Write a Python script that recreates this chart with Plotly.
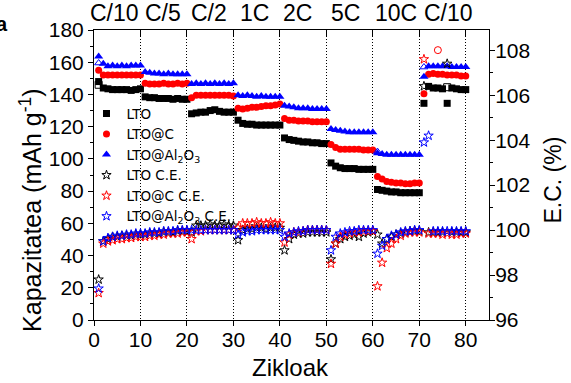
import plotly.graph_objects as go

cycles = list(range(1, 81))

# Capacity (mAh g-1), left axis
lto_cap = [148, 144, 143.5, 143, 143, 143, 143, 142.5, 143, 143.5,
           138.5, 138, 138, 137.5, 137.5, 137.5, 137, 137.5, 137, 137,
           128, 128.5, 129, 129, 130, 130.5, 129.5, 129, 129, 129,
           124, 122, 121.5, 121.5, 121, 121, 121, 121, 121, 121,
           113, 112, 111.5, 111, 110.5, 110.5, 110, 110, 109.5, 109.5,
           97.5, 95.5, 94.5, 94, 94, 94, 93.5, 93.5, 93.5, 93.5,
           81, 80.5, 80, 79.5, 79.5, 79, 79, 79, 79, 79,
           134.5, 145, 144, 144, 143.5, 134.5, 144, 143.5, 143, 143]
ltoc_cap = [155, 152, 152, 152, 152, 152, 152, 152, 152, 152,
            147, 146.5, 146.5, 146.5, 147, 146.5, 146.5, 147, 146.5, 147,
            138, 139.5, 139.5, 139.5, 139.5, 139.5, 139.5, 139.5, 139.5, 139,
            131.5, 131, 131.5, 132, 132, 132.5, 133, 133, 133.5, 134,
            125, 124, 124, 123.5, 123.5, 123.5, 123, 123, 123, 123,
            109, 107, 106, 106, 106, 106, 106, 105.5, 105.5, 105.5,
            89, 87.5, 86, 85.5, 85, 85, 84.5, 84.5, 85, 85,
            140.5, 152.5, 153, 152.5, 152.5, 152, 152, 152, 151.5, 151.5]
ltoal_cap = [163.5, 159, 157.5, 158, 157.5, 158, 157.5, 158, 158, 158,
             154, 153.5, 153, 153, 152.5, 153, 152.5, 152.5, 152.5, 152.5,
             146.5, 147, 146.5, 147, 146.5, 147, 146.5, 147, 146.5, 147,
             139.5, 139, 139.5, 139, 138.5, 139, 138.5, 138.5, 138.5, 138.5,
             133, 132.5, 132, 131.5, 131.5, 131.5, 131, 131, 131, 131,
             118.5, 118, 117.5, 117, 116.5, 116.5, 116.5, 116.5, 116.5, 116.5,
             103.5, 103, 102.5, 102.5, 102.5, 102.5, 102.5, 102.5, 102.5, 102.5,
             151, 157.5, 157.5, 157.5, 157.5, 157.5, 157, 157, 157, 157]

# Extra open markers (capacity)
lto_open_cyc = [1, 76]
lto_open_val = [146, 144.5]
ltoc_open_cyc = [74]
ltoc_open_val = [167.5]
ltoal_open_cyc = [1, 71, 61]
ltoal_open_val = [159.5, 157, 104.5]

# Coulombic efficiency (%), right axis
lto_ce = [97.8, 99.5, 99.6, 99.7, 99.7, 99.75, 99.75, 99.75, 99.8, 99.8,
          99.8, 99.85, 99.85, 99.85, 99.9, 99.9, 99.9, 99.95, 99.95, 99.95,
          99.9, 100.2, 100.2, 100.2, 100.25, 100.2, 100.2, 100.25, 100.2, 100.2,
          99.55, 100.0, 100.05, 100.05, 100.1, 100.1, 100.05, 100.1, 100.1, 100.1,
          99.1, 99.6, 99.8, 99.85, 99.85, 99.9, 99.9, 99.9, 99.9, 99.9,
          98.7, 99.4, 99.6, 99.7, 99.75, 99.8, 99.7, 99.85, 99.9, 99.95,
          99.8, 99.4, 99.6, 99.7, 99.8, 99.85, 99.9, 99.95, 99.95, 99.95,
          106.4, 99.9, 99.9, 99.9, 99.9, 107.4, 99.9, 99.9, 99.9, 99.9]
ltoc_ce = [97.2, 99.4, 99.5, 99.55, 99.6, 99.6, 99.65, 99.65, 99.7, 99.7,
           99.7, 99.75, 99.75, 99.8, 99.8, 99.85, 99.85, 99.85, 99.9, 99.9,
           99.6, 99.95, 99.95, 100.0, 100.0, 100.0, 100.0, 100.0, 100.0, 100.0,
           100.1, 100.3, 100.3, 100.3, 100.35, 100.3, 100.3, 100.35, 100.3, 100.3,
           99.45, 99.8, 99.9, 99.9, 99.95, 100.0, 100.0, 100.0, 100.0, 100.0,
           98.5, 99.4, 99.7, 99.8, 99.85, 99.9, 99.9, 99.95, 99.95, 99.95,
           97.5, 98.55, 99.2, 99.4, 99.6, 99.75, 99.85, 99.9, 99.9, 99.9,
           107.6, 99.85, 99.85, 99.85, 99.8, 99.85, 99.8, 99.8, 99.85, 99.85]
ltoal_ce = [97.4, 99.5, 99.65, 99.7, 99.75, 99.75, 99.8, 99.8, 99.85, 99.85,
            99.85, 99.9, 99.9, 99.9, 99.95, 99.95, 99.95, 100.0, 100.0, 100.0,
            100.0, 100.0, 100.0, 100.0, 100.0, 100.0, 100.0, 100.0, 100.0, 100.0,
            99.8, 99.9, 99.95, 99.95, 100.0, 100.0, 100.0, 100.0, 100.0, 100.0,
            99.7, 99.85, 99.9, 99.95, 99.95, 100.0, 100.0, 100.0, 100.0, 100.0,
            99.1, 99.7, 99.85, 99.9, 99.95, 99.95, 100.0, 100.0, 100.0, 100.0,
            98.95, 99.3, 99.6, 99.75, 99.8, 99.9, 99.95, 99.95, 100.0, 100.0,
            103.9, 104.2, 99.95, 99.95, 99.95, 99.95, 99.95, 99.95, 99.95, 99.95]

rate_labels = ["C/10", "C/5", "C/2", "1C", "2C", "5C", "10C", "C/10"]
rate_label_pos = [4.4, 14.8, 24.7, 34.5, 43.7, 54.1, 64.9, 76.3]

FONT = "Liberation Sans, Arial, sans-serif"
LEGFONT = "DejaVu Sans, sans-serif"
BLACK, RED, BLUE = "#000000", "#ff0000", "#0000ff"

fig = go.Figure()

def cap_trace(y, name, color, symbol, size):
    fig.add_trace(go.Scatter(x=cycles, y=y, mode="markers", name=name,
                             marker=dict(color=color, symbol=symbol, size=size,
                                         line=dict(width=0))))

cap_trace(lto_cap, "LTO", BLACK, "square", 7)
cap_trace(ltoc_cap, "LTO@C", RED, "circle", 7)
cap_trace(ltoal_cap, "LTO@Al<sub>2</sub>O<sub>3</sub>", BLUE, "triangle-up", 8)

for cx, cy, col, sym in [(lto_open_cyc, lto_open_val, BLACK, "square-open"),
                         (ltoc_open_cyc, ltoc_open_val, RED, "circle-open"),
                         (ltoal_open_cyc, ltoal_open_val, BLUE, "triangle-up-open")]:
    fig.add_trace(go.Scatter(x=cx, y=cy, mode="markers", showlegend=False,
                             marker=dict(color=col, symbol=sym, size=7,
                                         line=dict(width=1, color=col))))

def ce_trace(y, name, color):
    fig.add_trace(go.Scatter(x=cycles, y=y, mode="markers", name=name,
                             yaxis="y2",
                             marker=dict(color=color, symbol="star-open", size=7,
                                         line=dict(width=1, color=color))))

ce_trace(lto_ce, "LTO C.E.", BLACK)
ce_trace(ltoc_ce, "LTO@C C.E.", RED)
ce_trace(ltoal_ce, "LTO@Al<sub>2</sub>O<sub>3</sub> C.E.", BLUE)

# invisible trace to anchor top axis
fig.add_trace(go.Scatter(x=[0], y=[0], xaxis="x2", mode="markers",
                         marker=dict(opacity=0), showlegend=False, hoverinfo="skip"))

for lab, cx in zip(rate_labels, rate_label_pos):
    fig.add_annotation(x=cx, y=1.058, xref="x", yref="paper", text=lab,
                       showarrow=False, font=dict(size=23, color=BLACK, family=FONT),
                       xanchor="center", yanchor="middle")

fig.add_annotation(x=-0.213, y=1.02, xref="paper", yref="paper", text="<b>a</b>",
                   showarrow=False, font=dict(size=20, color=BLACK, family=FONT),
                   xanchor="right", yanchor="middle")

# axis titles as annotations
fig.add_annotation(x=0.497, y=-0.165, xref="paper", yref="paper", text="Zikloak",
                   showarrow=False, font=dict(size=24, color=BLACK, family=FONT),
                   xanchor="center", yanchor="middle")
fig.add_annotation(x=-0.160, y=0.379, xref="paper", yref="paper",
                   text="Kapazitatea (mAh g<sup>-1</sup>)", textangle=-90,
                   showarrow=False, font=dict(size=25, color=BLACK, family=FONT),
                   xanchor="center", yanchor="middle")
fig.add_annotation(x=1.163, y=0.482, xref="paper", yref="paper",
                   text="E.C. (%)", textangle=-90,
                   showarrow=False, font=dict(size=23, color=BLACK, family=FONT),
                   xanchor="center", yanchor="middle")

axis_common = dict(showline=True, linecolor=BLACK, linewidth=1, zeroline=False,
                   automargin=False,
                   tickcolor=BLACK, tickfont=dict(size=21, color=BLACK, family=FONT))

fig.update_layout(
    width=571, height=383,
    margin=dict(l=93.5, r=81.5, t=29.5, b=63, autoexpand=False),
    paper_bgcolor="white", plot_bgcolor="white",
    font=dict(family=FONT, color=BLACK),
    xaxis=dict(range=[0, 85], tickvals=[0, 10, 20, 30, 40, 50, 60, 70, 80],
               ticks="outside", ticklen=5,
               showgrid=True, gridcolor=BLACK, griddash="1px,2px", gridwidth=1,
               **axis_common),
    xaxis2=dict(range=[0, 85], overlaying="x", side="top",
                tickvals=[10, 20, 30, 40, 50, 60, 70, 80], ticks="inside", ticklen=6,
                showticklabels=False, showgrid=False, **axis_common),
    yaxis=dict(range=[0, 180], tickvals=list(range(0, 181, 20)), ticks="outside", ticklen=5,
               minor=dict(tickvals=list(range(10, 180, 20)), ticks="outside", ticklen=3,
                          tickcolor=BLACK, showgrid=False),
               showgrid=False,
               **axis_common),
    yaxis2=dict(range=[96, 108.9], overlaying="y", side="right",
                tickvals=[96, 98, 100, 102, 104, 106, 108], ticks="outside", ticklen=5,
                minor=dict(tickvals=[97, 99, 101, 103, 105, 107], ticks="outside", ticklen=3,
                           tickcolor=BLACK, showgrid=False),
                showgrid=False,
                **axis_common),
    legend=dict(x=-0.019, xanchor="left", y=0.765, yanchor="top",
                bgcolor="rgba(0,0,0,0)", borderwidth=0,
                font=dict(size=13.5, family=LEGFONT, color=BLACK),
                itemwidth=30, tracegroupgap=0),
    showlegend=True,
)

try:
    fig.layout.xaxis.ticklabelstandoff = -4
except Exception:
    pass
try:
    fig.layout.yaxis2.ticklabelstandoff = -4
except Exception:
    pass

fig.write_html("out.html")
